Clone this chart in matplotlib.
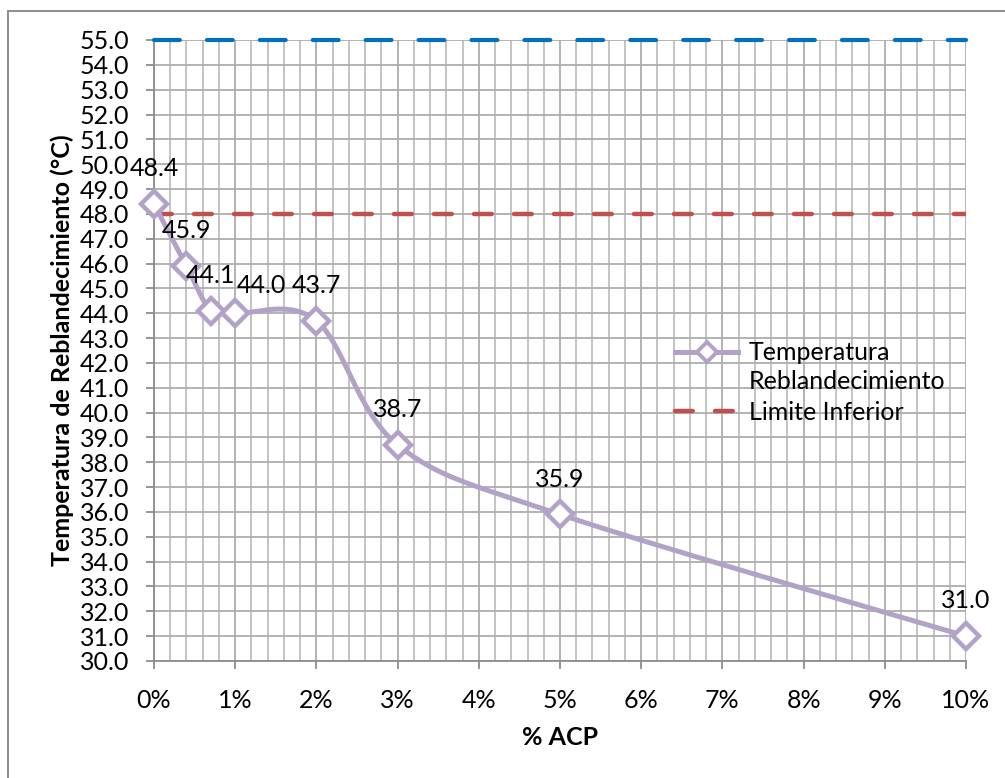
import matplotlib
matplotlib.use("Agg")
import matplotlib.pyplot as plt
import matplotlib.transforms as mtransforms
from matplotlib.legend_handler import HandlerLine2D
from matplotlib.ticker import MultipleLocator, FuncFormatter
from matplotlib.patches import Rectangle
import numpy as np

plt.rcParams['font.family'] = ['Lato', 'DejaVu Sans']

# data
acp = [0, 0.4, 0.7, 1, 2, 3, 5, 10]
temp = [48.4, 45.9, 44.1, 44.0, 43.7, 38.7, 35.9, 31.0]
limite_inferior = 48.0
limite_superior = 55.0
x_ticks = [0, 1, 2, 3, 4, 5, 6, 7, 8, 9, 10]

purple = '#B3A2C7'
red = '#C0504D'
blue = '#0070C0'
grid_col = '#ADADAD'

# the 44.0 label was dragged to the side in the original (offset in points)
label_offsets = {3: (19, 20)}


def excel_smooth(xs, ys, sx, sy, n=40):
    # bezier smoothing like Excel, done in scaled (screen-like) units
    p = np.column_stack([np.array(xs) * sx, np.array(ys) * sy])
    out = [p[0]]
    for i in range(len(p) - 1):
        p0 = p[i - 1] if i > 0 else p[i]
        p1 = p[i]
        p2 = p[i + 1]
        p3 = p[i + 2] if i + 2 < len(p) else p[i + 1]
        c1 = p1 + (p2 - p0) / 6
        c2 = p2 - (p3 - p1) / 6
        t = np.linspace(0, 1, n)[1:, None]
        seg = ((1 - t) ** 3) * p1 + 3 * ((1 - t) ** 2) * t * c1 + 3 * (1 - t) * t ** 2 * c2 + t ** 3 * p2
        out.extend(seg)
    out = np.array(out)
    return out[:, 0] / sx, out[:, 1] / sy


class TopLineHandler(HandlerLine2D):
    # put the legend symbol next to the first line of a two-line label
    def create_artists(self, legend, orig_handle, xdescent, ydescent, width, height,
                       fontsize, trans):
        arts = super().create_artists(legend, orig_handle, xdescent, ydescent, width,
                                      height, fontsize, trans)
        shift = mtransforms.Affine2D().translate(0, 11.5) + trans
        for a in arts:
            a.set_transform(shift)
        return arts


fig = plt.figure(figsize=(10.05, 7.78), dpi=100)
# chart area border (only left and top edges fall inside the image)
fig.patches.append(Rectangle((8 / 1005, -0.1), 1.1, 1.1 - 11 / 778,
                             transform=fig.transFigure, fill=False,
                             edgecolor='#8C8C8C', linewidth=1.4))

ax = fig.add_axes([154 / 1005, 1 - 661 / 778, 812 / 1005, 621 / 778])

sx, sy = 81.2, 24.84
cx, cy = excel_smooth(acp, temp, sx, sy)

ax.axhline(limite_superior, color=blue, lw=3.0, dashes=(6.2, 6.5), dash_capstyle='round',
           zorder=4, clip_on=False)
ax.axhline(limite_inferior, color=red, lw=3.2, dashes=(4.0, 5.0), dash_capstyle='round',
           zorder=4, label='Limite Inferior')
ax.plot(cx, cy, color=purple, lw=3.6, zorder=5, solid_capstyle='round')
ax.plot(acp, temp, linestyle='none', marker='D', markersize=13, markerfacecolor='white',
        markeredgecolor=purple, markeredgewidth=3.2, zorder=6, clip_on=False)
# legend proxy
temp_proxy, = ax.plot([], [], color=purple, lw=3.6, marker='D', markersize=10,
                      markerfacecolor='white', markeredgecolor=purple, markeredgewidth=2.8,
                      label='Temperatura\nReblandecimiento')

for i, (x, y) in enumerate(zip(acp, temp)):
    ax.annotate(f'{y:.1f}', (x, y), xytext=label_offsets.get(i, (0, 25.5)),
                textcoords='offset points', ha='center', va='center',
                fontsize=18, color='black', zorder=7)

ax.set_xlim(0, 10)
ax.set_ylim(30, 55)
ax.set_xticks(x_ticks)
ax.xaxis.set_major_formatter(FuncFormatter(lambda v, p: f'{int(round(v))}%'))
ax.xaxis.set_minor_locator(MultipleLocator(0.2))
ax.yaxis.set_major_locator(MultipleLocator(1))
ax.yaxis.set_major_formatter(FuncFormatter(lambda v, p: f'{v:.1f}'))

ax.grid(which='major', color=grid_col, lw=1.3)
ax.grid(which='minor', axis='x', color='#BEBEBE', lw=1.3)
ax.set_axisbelow(True)
ax.tick_params(which='major', direction='out', length=6, width=1.3, color='#8C8C8C',
               labelsize=18)
ax.tick_params(which='minor', length=0)
ax.tick_params(axis='y', pad=12)
ax.tick_params(axis='x', pad=14)
for s in ['top', 'right']:
    ax.spines[s].set_visible(False)
for s in ['left', 'bottom']:
    ax.spines[s].set_color('#8C8C8C')
    ax.spines[s].set_linewidth(1.3)

ax.set_xlabel('% ACP', fontsize=18, fontweight='bold', labelpad=10)
ax.set_ylabel('Temperatura de Reblandecimiento (°C)', fontsize=18, fontweight='bold', labelpad=4)

handles, labels = ax.get_legend_handles_labels()
leg = ax.legend(handles[::-1], labels[::-1], loc='upper left', bbox_to_anchor=(0.662, 0.574),
                bbox_transform=fig.transFigure,
                handler_map={temp_proxy: TopLineHandler()},
                frameon=False, fontsize=18, handlelength=2.5, handletextpad=0.45,
                labelspacing=0.3, borderaxespad=0)
for t in leg.get_texts():
    t.set_linespacing(1.3)

fig.savefig('out.png', dpi=100)
